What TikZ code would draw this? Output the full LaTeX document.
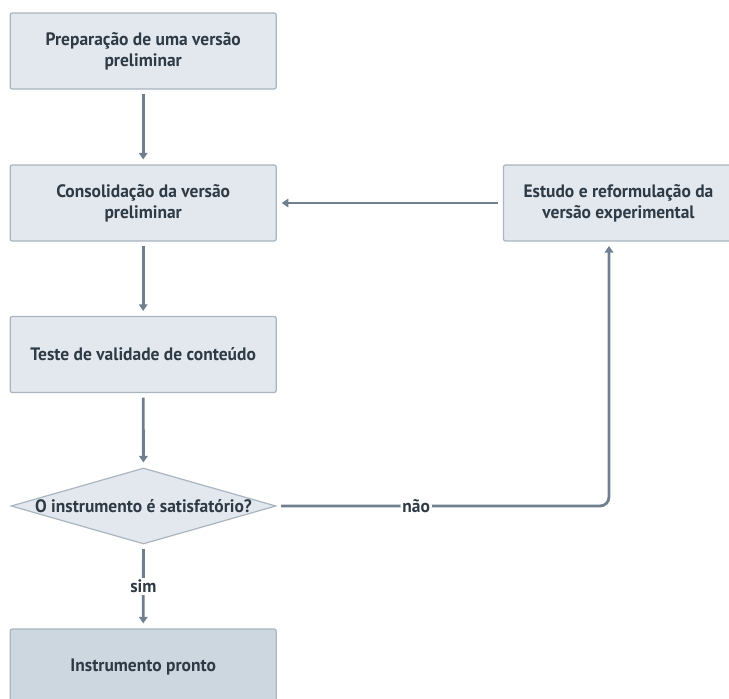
\documentclass[tikz,border=0pt]{standalone}
\usepackage{fontspec}
\setmainfont[FakeStretch=0.97]{PT Sans}
\usetikzlibrary{arrows.meta,shapes.geometric}
\definecolor{boxfill}{HTML}{E2E8ED}
\definecolor{boxdraw}{HTML}{A9B5C0}
\definecolor{endfill}{HTML}{CDD7E0}
\definecolor{linec}{HTML}{6F7F8E}
\definecolor{txt}{HTML}{2E3A46}
\tikzset{
  stepbox/.style={rectangle, rounded corners=2pt, draw=boxdraw, line width=1.2pt, fill=boxfill,
    minimum width=266pt, minimum height=76pt, align=center, text=txt,
    font=\fontsize{18}{21}\selectfont\bfseries},
  endbox/.style={stepbox, fill=endfill},
  decis/.style={diamond, aspect=3.5, draw=boxdraw, line width=1.2pt, fill=boxfill, inner sep=0pt,
    minimum width=265pt, minimum height=76pt, text=txt, font=\fontsize{18}{21}\selectfont\bfseries},
  arr/.style={draw=linec, line width=2.8pt, -{Triangle[width=8.5pt,length=6.5pt]},
    shorten <=4.5pt, shorten >=5pt},
  lbl/.style={fill=white, text=txt, inner sep=2pt, font=\fontsize{18}{20}\selectfont\bfseries}
}
\begin{document}
\begin{tikzpicture}[x=1pt,y=-1pt]
\useasboundingbox (0,0) rectangle (729,699);
\node[stepbox] (b1) at (143.2,51) {Preparação de uma versão\\preliminar};
\node[stepbox] (b2) at (143.2,203) {Consolidação da versão\\preliminar};
\node[stepbox] (b3) at (143.2,354.5) {Teste de validade de conteúdo};
\node[decis] (d) at (143.5,506) {O instrumento é satisfatório?};
\node[endbox] (e) at (143.2,667) {Instrumento pronto};
\node[stepbox, minimum width=230pt] (r) at (618.5,203) {Estudo e reformulação da\\versão experimental};
\coordinate (rs) at (609,241);
\draw[arr] (b1) -- (b2);
\draw[arr] (b2) -- (b3);
\draw[arr] (b3) -- (d);
\draw[arr] (r) -- (b2);
\draw[arr, rounded corners=9pt] (d.east) -| node[lbl, pos=0.21] {não} (rs);
\draw[arr] (d) -- node[lbl] {sim} (e);
\end{tikzpicture}
\end{document}
